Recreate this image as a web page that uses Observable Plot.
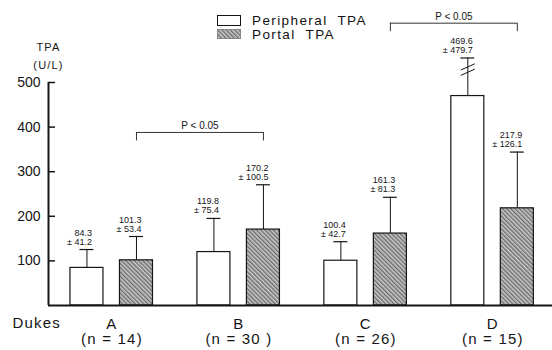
<!DOCTYPE html>
<html><head><meta charset="utf-8">
<script src="https://cdn.jsdelivr.net/npm/d3@7"></script>
<script src="https://cdn.jsdelivr.net/npm/@observablehq/plot@0.6"></script>
<style>
body{margin:0;background:#fff}
#chart{width:552px;height:350px}
g[font-family^="Liberation Sans,"]{letter-spacing:1.2px}
.lg{font-family:"Liberation Sans",Arial,sans-serif;font-size:13.5px;letter-spacing:1.4px;word-spacing:5px;fill:#111}
</style></head><body><div id="chart"></div>
<script>
// ---- data ----
const groups = ["A", "B", "C", "D"];
const nLabels = ["(n = 14)", "(n = 30 )", "(n = 26)", "(n = 15)"];
const peripheralMean = [84.3, 119.8, 100.4, 469.6];
const peripheralSD = [41.2, 75.4, 42.7, 479.7];
const portalMean = [101.3, 170.2, 161.3, 217.9];
const portalSD = [53.4, 100.5, 81.3, 126.1];
const yTicks = [100, 200, 300, 400, 500];
const brokenCap = 555;            // off-scale SD drawn up to the axis break
const sigFrom = ["A", "C"];
const sigTo = ["B", "D"];
const sigLabel = ["P < 0.05", "P < 0.05"];
const sigLevel = [388, 633];

// ---- layout ----
const W = 552, H = 350, mL = 48, mR = 0, mT = 82, mB = 45;
const xDomain = [-0.5, 3.47];
const offP = -0.197, offQ = 0.193, hw = 0.13, cap = 0.055;

// narrow font detection
function hasFont(f) {
  const c = document.createElement("canvas").getContext("2d");
  c.font = "20px monospace"; const a = c.measureText("170.2 ± abc").width;
  c.font = `20px '${f}', monospace`; const b = c.measureText("170.2 ± abc").width;
  return a !== b;
}
const narrow = hasFont("Liberation Sans Narrow");
const numFont = narrow ? "'Liberation Sans Narrow', Arial, sans-serif" : "Arial, Helvetica, sans-serif";
const numSize = narrow ? 10 : 9;

const rows = [];
groups.forEach((g, i) => {
  rows.push({g, type: "Peripheral", mean: peripheralMean[i], sd: peripheralSD[i], cx: i + offP});
  rows.push({g, type: "Portal", mean: portalMean[i], sd: portalSD[i], cx: i + offQ});
});
rows.forEach(r => { r.broken = r.mean + r.sd > brokenCap; r.top = Math.min(r.mean + r.sd, brokenCap); });
const periph = rows.filter(r => r.type === "Peripheral");
const portal = rows.filter(r => r.type === "Portal");
const broken = rows.filter(r => r.broken);
const breaks = [];
broken.forEach(r => { breaks.push({cx: r.cx, lv: r.top - 20}); breaks.push({cx: r.cx, lv: r.top - 32}); });

const sig = sigFrom.map((f, k) => ({
  x1: groups.indexOf(f) + offQ, x2: groups.indexOf(sigTo[k]) + offQ, level: sigLevel[k], label: sigLabel[k]
}));
const sigDrops = sig.flatMap(s => [{x: s.x1, y1: s.level, y2: s.level - 19}, {x: s.x2, y1: s.level, y2: s.level - 19}]);

const ink = "#151515";
const plot = Plot.plot({
  width: W, height: H, marginLeft: mL, marginRight: mR, marginTop: mT, marginBottom: mB,
  x: {domain: xDomain, axis: null},
  y: {domain: [0, 500], axis: null},
  style: {fontFamily: "Arial, Helvetica, sans-serif", color: ink, background: "white"},
  marks: [
    Plot.rect(periph, {x1: d => d.cx - hw, x2: d => d.cx + hw, y1: 0, y2: "mean", fill: "white", stroke: ink, strokeWidth: 1.2}),
    Plot.rect(portal, {x1: d => d.cx - hw, x2: d => d.cx + hw, y1: 0, y2: "mean", fill: "url(#hatch)", stroke: ink, strokeWidth: 1.2}),
    Plot.ruleX(rows, {x: "cx", y1: "mean", y2: "top", stroke: ink, strokeWidth: 1}),
    Plot.ruleY(rows, {y: "top", x1: d => d.cx - cap, x2: d => d.cx + cap, stroke: ink, strokeWidth: 1.2}),
    Plot.link(breaks, {x1: d => d.cx - cap, x2: d => d.cx + cap, y1: d => d.lv - 7, y2: d => d.lv + 7, stroke: ink, strokeWidth: 1}),
    Plot.text(rows, {x: "cx", y: "top", text: d => `${d.mean.toFixed(1)}\n± ${d.sd.toFixed(1)}`,
      textAnchor: "end", dx: 5, dy: -5, lineAnchor: "bottom", lineHeight: 1.0, fontSize: numSize, fontFamily: numFont, fill: ink}),
    Plot.ruleY(sig, {y: "level", x1: "x1", x2: "x2", stroke: "#333", strokeWidth: 1}),
    Plot.ruleX(sigDrops, {x: "x", y1: "y1", y2: "y2", stroke: "#333", strokeWidth: 1}),
    Plot.text(sig, {x: d => (d.x1 + d.x2) / 2, y: "level", text: "label", lineAnchor: "bottom", dy: -3, fontSize: 10, fill: ink}),
    Plot.ruleY([0], {stroke: ink, strokeWidth: 2}),
    Plot.ruleX([xDomain[0]], {y1: 0, y2: yTicks[yTicks.length - 1], stroke: ink, strokeWidth: 2}),
    Plot.ruleY(yTicks, {insetRight: W - mL - mR - 7, stroke: ink, strokeWidth: 1.5}),
    Plot.axisY(yTicks, {tickSize: 0, tickPadding: 8, fontSize: 14, label: null, fill: ink}),
    Plot.text(["TPA\n(U/L)"], {frameAnchor: "top-left", textAnchor: "middle", dx: 0, dy: -14, lineAnchor: "bottom", lineHeight: 1.55,
      fontSize: 11, fontFamily: "Liberation Sans, Arial, sans-serif", fill: ink}),
    Plot.text(groups, {x: (d, i) => i, frameAnchor: "bottom", textAnchor: "middle", text: (d, i) => `${d}\n${nLabels[i]}`,
      lineAnchor: "top", dy: 12, lineHeight: 1.05, fontSize: 15, fontFamily: "Liberation Sans, Arial, sans-serif", fill: ink}),
    Plot.text(["Dukes"], {frameAnchor: "bottom-left", dx: -36, dy: 12, lineAnchor: "top", textAnchor: "start",
      fontSize: 15, fontFamily: "Liberation Sans, Arial, sans-serif", fill: ink})
  ]
});

const svg = d3.select(plot);
const defs = svg.insert("defs", ":first-child");
const pat = defs.append("pattern").attr("id", "hatch").attr("patternUnits", "userSpaceOnUse")
  .attr("width", 3).attr("height", 3).attr("patternTransform", "rotate(-45)");
pat.append("rect").attr("width", 3).attr("height", 3).attr("fill", "#cacaca");
pat.append("line").attr("x1", 0.75).attr("y1", 0).attr("x2", 0.75).attr("y2", 3).attr("stroke", "#646464").attr("stroke-width", 1.3);

// legend
const lg = svg.append("g").attr("text-anchor", "start");
lg.append("rect").attr("x", 217.5).attr("y", 15.5).attr("width", 23).attr("height", 10).attr("fill", "white").attr("stroke", ink);
lg.append("rect").attr("x", 217.5).attr("y", 29.5).attr("width", 23).attr("height", 9).attr("fill", "url(#hatch)").attr("stroke", "#888");
lg.append("text").attr("class", "lg").attr("text-anchor", "start").attr("x", 252).attr("y", 25).text("Peripheral TPA");
lg.append("text").attr("class", "lg").attr("text-anchor", "start").attr("x", 252).attr("y", 39).text("Portal TPA");

document.getElementById("chart").append(plot);
</script></body></html>
